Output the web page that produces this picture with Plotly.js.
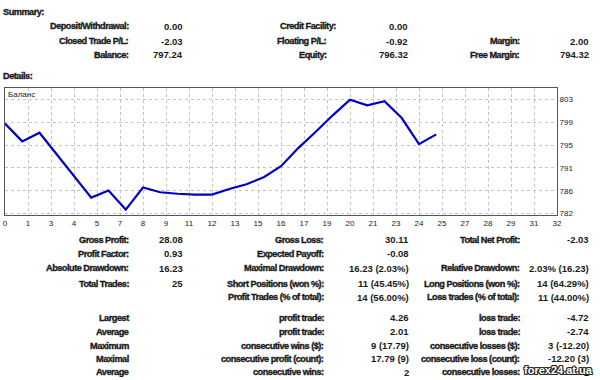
<!DOCTYPE html>
<html><head><meta charset="utf-8">
<script src="https://cdn.plot.ly/plotly-3.0.1.min.js"></script>
<style>
html,body{margin:0;padding:0;background:#fff;}
#chart{width:600px;height:380px;}
text.annotation-text[style*="9.2px"]{letter-spacing:-0.5px; stroke:#1a1a1a; stroke-width:0.35px;}
</style>
</head><body><div id="chart"></div>
<script>
// ---- data ----
const trades = [0,1,2,3,4,5,6,7,8,9,10,11,12,13,14,15,16,17,18,19,20,21,22,23,24,25];
const balance = [799.27,795.92,797.55,793.51,789.35,785.31,786.64,783.04,787.21,786.32,786.03,785.88,785.88,786.94,787.83,789.16,791.24,794.65,797.68,800.84,803.80,802.74,803.49,800.33,795.41,797.24];
const seriesName = 'Баланс';
const xTickLabels = ['0','1','3','4','5','7','8','9','11','12','13','15','16','17','19','20','21','23','24','25','27','28','29','31','32'];
const yTickValues = [782.3,786.6,790.9,795.2,799.5,803.8];
const yTickLabels = ['782','786','791','795','799','803'];

const summaryTitle = 'Summary:';
const detailsTitle = 'Details:';
const summaryLabels1 = ['Deposit/Withdrawal:','Closed Trade P/L:','Balance:'];
const summaryValues1 = ['0.00','-2.03','797.24'];
const summaryLabels2 = ['Credit Facility:','Floating P/L:','Equity:'];
const summaryValues2 = ['0.00','-0.92','796.32'];
const summaryLabels3 = ['','Margin:','Free Margin:'];
const summaryValues3 = ['','2.00','794.32'];

const detailLabels1 = ['Gross Profit:','Profit Factor:','Absolute Drawdown:','Total Trades:','','Largest','Average','Maximum','Maximal','Average'];
const detailValues1 = ['28.08','0.93','16.23','25','','','','','',''];
const detailLabels2 = ['Gross Loss:','Expected Payoff:','Maximal Drawdown:','Short Positions (won %):','Profit Trades (% of total):','profit trade:','profit trade:','consecutive wins ($):','consecutive profit (count):','consecutive wins:'];
const detailValues2 = ['30.11','-0.08','16.23 (2.03%)','11 (45.45%)','14 (56.00%)','4.26','2.01','9 (17.79)','17.79 (9)','2'];
const detailLabels3 = ['Total Net Profit:','','Relative Drawdown:','Long Positions (won %):','Loss trades (% of total):','loss trade:','loss trade:','consecutive losses ($):','consecutive loss (count):','consecutive losses:'];
const detailValues3 = ['-2.03','','2.03% (16.23)','14 (64.29%)','11 (44.00%)','-4.72','-2.74','3 (-12.20)','-12.20 (3)','2'];
const watermark = 'forex24.at.ua';

// ---- layout geometry (pixels) ----
const L = 5, R = 43, T = 88, B = 165.3;
const W = 600 - L - R, H = 380 - T - B;
const bottomY = 380 - B;
const fx = px => (px - L) / W;
const fy = py => (bottomY - py) / H;
const FONT = '"Liberation Sans", Arial, sans-serif';
const textColor = '#1a1a1a';
const LABEL_SIZE = 9.2, VALUE_SIZE = 9.5;

const annotations = [];
function addText(text, px, py, anchor, size, weight, extra) {
  if (!text) return;
  annotations.push(Object.assign({
    xref: 'paper', yref: 'paper', x: fx(px), y: fy(py),
    xanchor: anchor, yanchor: 'middle', align: anchor === 'right' ? 'right' : 'left',
    text: text, showarrow: false, borderpad: 0, borderwidth: 0,
    font: {family: FONT, size: size, color: textColor, weight: weight}
  }, extra || {}));
}

addText(summaryTitle, 3, 12.5, 'left', LABEL_SIZE, 700);
addText(detailsTitle, 3, 76, 'left', LABEL_SIZE, 700);

const sumRowY = [26.5, 41.5, 55];
const sumCol2Right = [336, 327, 327];
sumRowY.forEach((y, i) => {
  addText(summaryLabels1[i], 128.5, y, 'right', LABEL_SIZE, 700);
  addText(summaryValues1[i], 183, y, 'right', VALUE_SIZE, 700);
  addText(summaryLabels2[i], sumCol2Right[i], y, 'right', LABEL_SIZE, 700);
  addText(summaryValues2[i], 407.5, y, 'right', VALUE_SIZE, 700);
  addText(summaryLabels3[i], 520, y, 'right', LABEL_SIZE, 700);
  addText(summaryValues3[i], 588.5, y, 'right', VALUE_SIZE, 700);
});

const detRowY = [239.3, 253.3, 267.7, 283.3, 296.7, 317.3, 331, 345, 358.3, 371.7];
detRowY.forEach((y, i) => {
  addText(detailLabels1[i], 128.5, y, 'right', LABEL_SIZE, 700);
  addText(detailValues1[i], 183, y, 'right', VALUE_SIZE, 700);
  addText(detailLabels2[i], 323.5, y, 'right', LABEL_SIZE, 700);
  addText(detailValues2[i], 409, y, 'right', VALUE_SIZE, 700);
  addText(detailLabels3[i], 520, y, 'right', LABEL_SIZE, 700);
  addText(detailValues3[i], 589, y, 'right', VALUE_SIZE, 700);
});

addText(seriesName, 7.5, 94, 'left', 8, 400);

annotations.push({
  xref: 'paper', yref: 'paper', x: fx(558.5), y: fy(369.5), xanchor: 'center', yanchor: 'middle',
  text: watermark, showarrow: false, borderpad: 0, borderwidth: 0,
  font: {family: FONT, size: 11, color: '#ffffff', weight: 700,
         shadow: '1px 1px 0 #2a2a2a, -1px -1px 0 #2a2a2a, 1px -1px 0 #2a2a2a, -1px 1px 0 #2a2a2a, 0 1px 0 #2a2a2a, 0 -1px 0 #2a2a2a, 1px 0 0 #2a2a2a, -1px 0 0 #2a2a2a'}
});

const tickVals = xTickLabels.map((_, k) => k * 32 / (xTickLabels.length - 1));

const data = [{
  x: trades, y: balance, type: 'scatter', mode: 'lines', name: seriesName,
  line: {color: 'rgb(0,0,200)', width: 2.2}, hoverinfo: 'skip'
}];

const layout = {
  width: 600, height: 380,
  margin: {l: L, r: R, t: T, b: B, pad: 0},
  paper_bgcolor: '#ffffff', plot_bgcolor: '#ffffff',
  showlegend: false,
  xaxis: {
    range: [0, 32], tickmode: 'array', tickvals: tickVals, ticktext: xTickLabels,
    showgrid: true, gridcolor: '#c4c4c4', griddash: '3px,3px', gridwidth: 1,
    zeroline: false, showline: true, mirror: true, linecolor: '#555', linewidth: 1,
    ticks: '', tickfont: {family: FONT, size: 8, color: textColor}, fixedrange: true
  },
  yaxis: {
    side: 'right', range: [782.02, 806.0], tickmode: 'array', tickvals: yTickValues, ticktext: yTickLabels,
    showgrid: true, gridcolor: '#c4c4c4', griddash: '3px,3px', gridwidth: 1,
    zeroline: false, showline: true, mirror: true, linecolor: '#555', linewidth: 1,
    ticks: '', tickfont: {family: FONT, size: 8, color: textColor}, fixedrange: true
  },
  annotations: annotations
};

Plotly.newPlot('chart', data, layout, {displayModeBar: false, staticPlot: true});
</script>
</body></html>
